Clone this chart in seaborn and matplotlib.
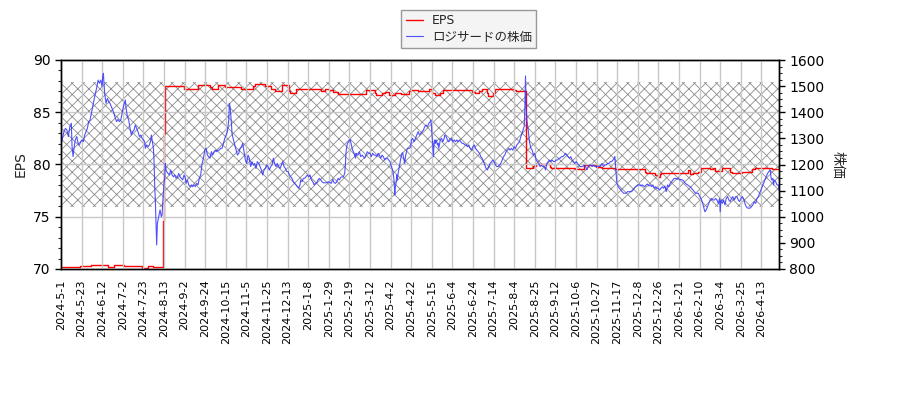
import numpy as np
import pandas as pd
import matplotlib
matplotlib.use('Agg')
import matplotlib.pyplot as plt
from matplotlib.ticker import AutoMinorLocator
import seaborn as sns

# x positions are trading-day numbers counted from 2024-5-1
tick_labels = ['2024-5-1', '2024-5-23', '2024-6-12', '2024-7-2', '2024-7-23', '2024-8-13',
               '2024-9-2', '2024-9-24', '2024-10-15', '2024-11-5', '2024-11-25', '2024-12-13',
               '2025-1-8', '2025-1-29', '2025-2-19', '2025-3-12', '2025-4-2', '2025-4-22',
               '2025-5-15', '2025-6-4', '2025-6-24', '2025-7-14', '2025-8-4', '2025-8-25',
               '2025-9-12', '2025-10-6', '2025-10-27', '2025-11-17', '2025-12-8', '2025-12-26',
               '2026-1-21', '2026-2-10', '2026-3-4', '2026-3-25', '2026-4-13']
tick_step = 14
last_day = 488

# EPS (step changes)
eps_day = [0, 6.6, 12.7, 20.6, 32, 36, 42.5, 55, 59, 62.5, 69.6, 70.3, 70.6, 83.6, 93.1,
           101.1, 102.7, 106.7, 111.3, 118.1,
           122.6, 130.5, 131.6, 138.4, 143.0, 145.2, 150.2, 154.7, 155.9, 160.0, 177.0,
           179.2, 182.0, 184.9, 188.3, 207.5, 213.2, 214.3, 218.2, 220.5, 222.7, 226.8,
           231.3, 236.3, 238.1,
           242.7, 250.0, 252.2, 254.0, 257.7, 259.7, 279.0, 281.2, 283.9, 285.8, 289.4,
           290.3, 293.9, 294.8, 303.9, 308.0, 308.9, 315.7, 320.9, 323.1, 332.2, 333.3,
           342.4, 349.2, 355.5, 363.9,
           367.4, 376.4, 377.8, 396.8, 397.9, 403.6, 405.9, 407.2, 408.1, 419.5, 426.3,
           427.6, 429.7, 433.1, 435.3, 441.0, 443.3, 444.4, 448.9, 454.6, 455.7, 462.5,
           469.3, 471.6, 482.9, 485.2, 488]
eps_val = [70.2, 70.15, 70.3, 70.35, 70.15, 70.35, 70.3, 70.1, 70.3, 70.2, 74.6, 83.0, 87.5,
           87.2, 87.65, 87.45, 87.2, 87.6, 87.4, 87.45,
           87.22, 87.55, 87.67, 87.5, 87.2, 87.07, 87.6, 87.0, 86.81, 87.19, 87.07,
           87.19, 87.13, 86.97, 86.78, 87.13, 86.81, 86.68, 86.81, 86.97, 86.62, 86.81,
           86.75, 87.07, 87.13,
           87.07, 87.19, 86.81, 86.65, 86.88, 87.13, 86.97, 86.81, 87.07, 87.19, 86.81,
           86.55, 86.81, 87.19, 87.26, 87.13, 87.03, 79.63, 79.86, 80.02, 79.8, 79.7,
           79.63, 79.6, 79.92, 79.8,
           79.67, 79.54, 79.6, 79.3, 79.15, 79.0, 78.84, 79.1, 79.15, 79.22, 79.47,
           79.1, 79.15, 79.28, 79.63, 79.54, 79.63, 79.41, 79.63, 79.3, 79.22, 79.3,
           79.54, 79.63, 79.54, 79.6, 79.6]

# share price
price_day = [0, 1, 2, 3, 4, 5, 6, 7, 7.5, 8.2, 8.8, 9.7, 10.7, 11.6, 12.5, 13.4, 14.3, 15.2,
             16.1, 17.0, 17.9, 18.8, 19.7, 20.6, 21.5, 22.4, 23.3, 24.2, 25.2, 26.1, 27.0,
             27.9, 28.3, 28.8, 29.2, 29.7, 30.6, 31.5, 32.4, 33.3, 34.2, 35.1, 36.0, 36.9,
             37.8, 38.7, 39.7, 40.6, 41.5, 42.4, 43.3, 43.7, 44.2, 45.1, 46.0, 46.9, 47.8,
             48.7, 49.6, 50.5, 51.4, 52.3, 53.3, 54.2, 55.1, 56.0, 56.9, 57.3, 58.2, 59.1,
             60.1, 61.0, 61.4, 61.9, 62.8, 63.2, 63.7, 64.1, 64.6, 65.0, 65.5, 66.4, 67.3,
             68.2, 68.7, 69.1, 69.6, 70.0, 70.5, 70.9, 71.4, 71.8, 72.7, 73.6, 74.6, 75.5,
             76.4, 77.3, 78.2, 79.1, 80.0, 80.9, 81.8, 82.7, 83.6, 84.5, 85.0, 85.9, 86.8,
             87.7, 88.6, 89.5, 90.4, 91.3, 92.2, 93.1, 94.0, 94.9, 95.9, 96.8, 97.7, 98.6,
             99.5, 100.4, 101.3, 102.2, 103.1, 104.0, 104.9, 105.8, 106.7, 107.6, 108.5,
             109.4, 110.4, 111.3, 112.2, 113.1, 114.0, 114.4, 114.9, 115.3, 115.8, 116.2,
             117.2, 118.1, 119.0, 119.9, 120.8,
             121.7, 122.6, 123.5, 124.4, 125.3, 126.2, 127.1, 128.0, 128.9, 129.8, 130.7,
             131.6, 132.5, 133.4, 134.4, 135.3, 136.2, 137.1, 138.0, 138.9, 139.8, 140.7,
             141.6, 142.5, 143.4, 144.3, 145.2, 146.1, 147.0, 147.9, 148.9, 149.8, 150.7,
             151.6, 152.5, 153.4, 154.3, 155.2, 156.1, 157.0, 157.9, 158.8, 159.7, 160.6,
             161.5, 162.4, 162.9, 163.8, 164.7, 165.6, 166.5, 167.4, 168.3, 169.2, 170.2,
             171.1, 172.0, 172.9, 173.8, 174.7, 175.6, 176.5, 177.4, 178.3, 180.1, 181.9,
             183.7, 184.7, 185.6, 186.5, 187.4, 188.3, 189.2, 190.1, 191.9, 192.8, 193.3,
             193.7, 194.6, 195.5, 196.4, 196.9, 197.3, 198.2, 199.2, 200.1, 200.5, 201.0,
             201.9, 202.8, 203.7, 204.6, 205.5, 206.4, 207.3, 208.2, 209.1, 210.0, 210.9,
             211.8, 212.8, 213.7, 214.6, 215.5, 216.4, 217.3, 218.2, 219.1, 220.0, 220.9,
             221.8, 222.7, 223.6, 224.5, 225.4, 225.9, 226.4, 226.8, 227.3, 227.7, 228.2,
             228.6, 229.1, 230.0, 230.9, 231.8, 232.2, 232.7, 233.1, 233.6, 234.1, 235.0,
             235.9, 236.8, 237.7, 238.1, 239.0, 239.9, 240.9, 241.8, 242.7, 243.6,
             244.5, 245.4, 246.3, 247.2, 248.1, 249.0, 250.0, 250.9, 251.3, 251.8, 252.2,
             252.7, 253.1, 253.6, 254.0, 254.5, 254.9, 255.4, 255.8, 256.3, 256.7, 257.2,
             257.7, 258.6, 259.5, 260.4, 260.8, 261.7, 262.6, 263.5, 264.5, 265.4, 266.3,
             267.2, 268.1, 269.0, 269.9, 270.8, 271.7, 272.6, 273.5, 274.4, 275.3, 276.2,
             277.1, 278.0, 279.0, 279.9, 280.8, 281.7, 282.6, 283.5, 284.4, 285.3, 286.2,
             287.1, 288.0, 288.9, 289.8, 290.7, 291.6, 292.6, 293.5, 294.4, 295.3, 296.2,
             297.1, 298.0, 298.9, 299.8, 300.7, 301.6, 302.5, 303.4, 304.3, 305.2, 306.1,
             307.1, 308.0, 308.9, 309.8, 310.7, 311.6, 312.5, 313.4, 314.3, 314.8, 315.2,
             315.7, 316.1, 316.6, 317.5, 318.4, 319.3, 320.2, 321.1, 322.0, 322.9, 323.8,
             324.7, 325.6, 326.5, 327.5, 328.4, 329.3, 330.2, 331.1, 332.0, 332.9, 333.8,
             334.7, 335.6, 336.5, 337.4, 338.3, 339.2, 340.1, 341.0, 342.0, 342.9, 343.8,
             344.7, 345.6, 346.5, 347.4, 348.3, 349.2, 350.1, 351.0, 351.9, 352.8, 353.7,
             354.6, 355.5, 356.5, 357.4, 358.3, 359.2, 360.1, 361.0, 361.9, 362.8, 363.7,
             364.6, 365.5,
             366.0, 366.9, 367.8, 368.7, 369.6, 370.5, 371.4, 372.4, 373.3, 374.2, 375.1,
             376.0, 376.4, 376.9, 377.3, 377.8, 378.7, 379.6, 380.5, 381.4, 382.3, 383.2,
             384.1, 385.0, 385.9, 386.9, 387.8, 388.7, 389.6, 390.5, 391.4, 392.3, 393.2,
             394.1, 395.0, 395.9, 396.8, 397.7, 398.6, 399.5, 400.4, 401.4, 402.3, 403.2,
             404.1, 405.0, 405.9, 406.8, 407.7, 408.6, 409.5, 410.4, 411.3, 411.8, 412.2,
             413.1, 414.0, 415.0, 415.9, 416.8, 417.7, 418.6, 419.5, 420.4, 421.3, 422.2,
             423.1, 424.0, 424.9, 425.8, 426.7, 427.6, 428.5, 429.5, 430.4, 431.3, 432.2,
             433.1, 434.0, 434.9, 435.8, 436.7, 437.6, 438.5, 439.4, 440.3, 441.2, 442.1,
             443.1, 444.0, 444.9, 445.8, 446.7, 447.6, 448.0, 448.5, 449.4, 450.3, 451.2,
             452.1, 453.0, 453.9, 454.8, 455.7, 456.6, 457.6, 458.5, 459.4, 460.3, 461.2,
             462.1, 463.0, 463.9, 464.8, 465.7, 466.6, 468.4, 469.3, 470.2, 471.2, 472.1,
             473.0, 473.9, 474.8, 475.7, 476.6, 477.5, 478.4, 479.3, 480.2, 481.1, 482.0,
             482.5, 482.9, 483.8, 484.3, 484.7, 485.7, 486.6, 487.5, 488.0]
price_val = [1275, 1300, 1326, 1338, 1332, 1307, 1345, 1358, 1268, 1230, 1262, 1294, 1307, 1281,
             1275, 1287, 1294, 1287, 1313, 1326, 1338, 1364, 1370, 1396, 1421, 1447, 1472, 1492,
             1523, 1511, 1523, 1498, 1536, 1549, 1511, 1472, 1434, 1453, 1440, 1434, 1421, 1409,
             1396, 1377, 1364, 1373, 1364, 1370, 1396, 1421, 1440, 1447, 1415, 1383, 1370, 1338,
             1313, 1326, 1332, 1351, 1338, 1326, 1307, 1313, 1300, 1294, 1287, 1262, 1275, 1268,
             1275, 1294, 1313, 1294, 1262, 1217, 1115, 1064, 968, 892, 975, 1000, 1026, 1000,
             1007, 1051, 1096, 1128, 1153, 1204, 1179, 1173, 1166, 1160, 1179, 1160, 1153, 1160,
             1147, 1153, 1166, 1153, 1147, 1141, 1160, 1147, 1128, 1141, 1122, 1115, 1122, 1115,
             1122, 1115, 1128, 1122, 1147, 1160, 1204, 1224, 1255, 1262, 1236, 1230, 1224, 1249,
             1236, 1249, 1255, 1249, 1255, 1255, 1262, 1262, 1281, 1300, 1313, 1326, 1370, 1434,
             1421, 1396, 1358, 1319, 1294, 1275, 1255, 1236, 1243,
             1262, 1268, 1281, 1249, 1217, 1204, 1236, 1224, 1192, 1211, 1198, 1204, 1185, 1211,
             1204, 1192, 1179, 1160, 1179, 1185, 1198, 1192, 1179, 1192, 1198, 1224, 1204, 1192,
             1204, 1192, 1185, 1198, 1211, 1192, 1185, 1173, 1173, 1160, 1153, 1147, 1134, 1128,
             1122, 1115, 1109, 1122, 1141, 1134, 1147, 1147, 1153, 1160, 1153, 1160, 1141, 1134,
             1122, 1128, 1130, 1141, 1147, 1141, 1134, 1130, 1130, 1134, 1128, 1143, 1130, 1128,
             1134, 1147, 1141, 1151, 1153, 1166, 1204, 1249, 1281, 1287, 1296, 1287, 1275, 1255,
             1243, 1224, 1243, 1236, 1236, 1249, 1230, 1236, 1230, 1224, 1236, 1249, 1243, 1243,
             1230, 1243, 1236, 1236, 1230, 1243, 1236, 1224, 1236, 1230, 1217, 1224, 1224, 1217,
             1211, 1192, 1179, 1160, 1134, 1083, 1115, 1128, 1160, 1141, 1166, 1192, 1224, 1243,
             1245, 1230, 1217, 1204, 1230, 1255, 1262, 1262, 1268, 1294, 1300, 1287, 1300, 1313,
             1326, 1313,
             1319, 1326, 1332, 1345, 1351, 1345, 1358, 1364, 1370, 1345, 1307, 1268, 1230, 1287,
             1294, 1281, 1294, 1287, 1275, 1281, 1262, 1275, 1294, 1300, 1287, 1300, 1313, 1307,
             1294, 1287, 1294, 1300, 1287, 1294, 1287, 1294, 1287, 1294, 1287, 1281, 1281, 1275,
             1275, 1268, 1275, 1262, 1255, 1268, 1275, 1262, 1255, 1249, 1243, 1230, 1224, 1211,
             1198, 1185, 1179, 1192, 1204, 1211, 1217, 1211, 1198, 1192, 1192, 1198, 1204, 1217,
             1230, 1236, 1249, 1255, 1262, 1255, 1262, 1255, 1268, 1262, 1275, 1281, 1287, 1307,
             1319, 1338, 1345, 1409, 1539, 1421, 1370, 1332, 1287, 1262, 1255, 1236, 1243, 1217,
             1211, 1204, 1192, 1198, 1192, 1192, 1179, 1204, 1211, 1217, 1211, 1217, 1211, 1211,
             1217, 1217, 1224, 1224, 1230, 1230, 1236, 1243, 1236, 1230, 1224, 1230, 1217, 1211,
             1204, 1211, 1204, 1198, 1192, 1192, 1192, 1198, 1192, 1179, 1192, 1198, 1198, 1192,
             1198, 1192, 1192, 1194, 1192,
             1192, 1198, 1204, 1192, 1198, 1198, 1204, 1204, 1211, 1211, 1217, 1224, 1230, 1192,
             1160, 1128, 1115, 1109, 1102, 1096, 1090, 1090, 1090, 1096, 1096, 1096, 1096, 1102,
             1109, 1115, 1118, 1122, 1122, 1118, 1122, 1118, 1115, 1122, 1125, 1118, 1122, 1115,
             1122, 1109, 1115, 1109, 1109, 1102, 1109, 1115, 1109, 1118, 1096, 1109, 1122, 1115,
             1128, 1134, 1141, 1147, 1147, 1143, 1147, 1141, 1143, 1141, 1138, 1130, 1125, 1122,
             1118, 1115, 1109, 1102, 1096, 1090, 1090, 1090, 1079, 1070, 1058, 1039, 1019, 1026,
             1039, 1051, 1064, 1070, 1064, 1064, 1070, 1064, 1051, 1070, 1019, 1064, 1051, 1064,
             1045, 1070, 1077, 1064, 1058, 1070, 1077, 1064, 1077, 1077, 1064, 1058, 1070, 1077,
             1070, 1051, 1039, 1033, 1033, 1039, 1045, 1058, 1051, 1070, 1077, 1090, 1102, 1115,
             1128, 1141, 1153, 1166, 1173, 1179, 1153, 1141, 1147, 1122, 1141, 1134, 1122, 1122,
             1102]

eps_df = pd.DataFrame({'day': eps_day, 'EPS': eps_val})
price_df = pd.DataFrame({'day': price_day, 'price': price_val})

sns.set_style('white')
plt.rcParams['font.family'] = ['DejaVu Sans', 'Noto Sans CJK JP']
plt.rcParams['hatch.linewidth'] = 0.6

fig, ax = plt.subplots(figsize=(9, 4), dpi=100)
fig.subplots_adjust(left=0.0678, right=0.8656, top=0.85, bottom=0.3275)
ax2 = ax.twinx()

# hatched band
ax.axhspan(75.95, 87.9, facecolor='none', edgecolor='#8c8c8c', hatch='xxx', linewidth=0, zorder=0)

sns.lineplot(data=eps_df, x='day', y='EPS', ax=ax, color='red', linewidth=1.0,
             drawstyle='steps-post', estimator=None, label='EPS', legend=False)
sns.lineplot(data=price_df, x='day', y='price', ax=ax2, color='#3333ff', alpha=0.85,
             linewidth=0.8, estimator=None, label='ロジサードの株価', legend=False)

ax.set_xlim(0, last_day)
ax.set_ylim(70, 90)
ax2.set_ylim(800, 1600)
ax.set_yticks([70, 75, 80, 85, 90])
ax2.set_yticks(np.arange(800, 1601, 100))
ax.yaxis.set_minor_locator(AutoMinorLocator(5))
ax2.yaxis.set_minor_locator(AutoMinorLocator(4))

ax.set_xticks(np.arange(len(tick_labels)) * tick_step)
ax.set_xticklabels(tick_labels, rotation=90, fontsize=8)
ax.grid(True, color='#c8c8c8', linewidth=1)
ax.set_axisbelow(False)

ax.set_xlabel('')
ax.set_ylabel('EPS', fontsize=10)
ax2.set_ylabel('株価', fontsize=10, rotation=270, labelpad=14,
               family=['Noto Sans CJK JP', 'DejaVu Sans'])

for a in (ax, ax2):
    a.tick_params(axis='both', which='major', direction='out', length=4, width=1,
                  labelsize=10, colors='black')
    a.tick_params(axis='y', which='minor', direction='out', length=2, width=0.8)
    for s in a.spines.values():
        s.set_color('black')
        s.set_linewidth(1)
ax.tick_params(axis='x', labelsize=8)
ax.tick_params(axis='y', left=True, which='both')
ax2.tick_params(axis='y', right=True, which='both')

h1, l1 = ax.get_legend_handles_labels()
h2, l2 = ax2.get_legend_handles_labels()
leg = fig.legend(h1 + h2, l1 + l2, loc='upper center', bbox_to_anchor=(0.521, 0.975),
                 borderaxespad=0, fancybox=False, edgecolor='#808080', facecolor='#f2f2f2',
                 handlelength=1.4, handletextpad=0.7, borderpad=0.35, labelspacing=0.25,
                 prop={'family': ['DejaVu Sans', 'Noto Sans CJK JP'], 'size': 9})
leg.get_frame().set_linewidth(1)

fig.savefig('out.png', dpi=100)
